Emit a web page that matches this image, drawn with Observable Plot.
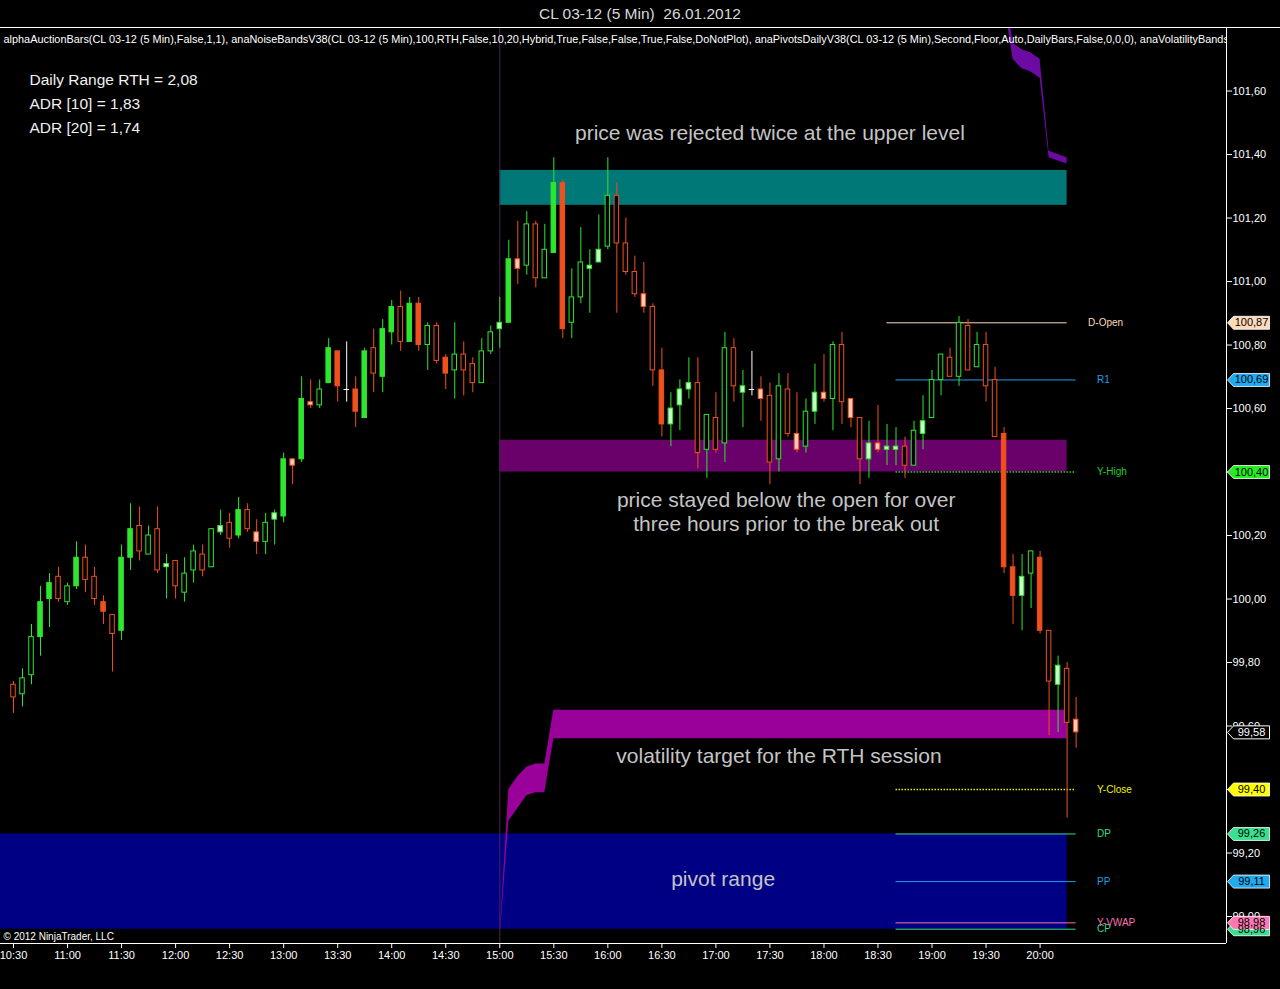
<!DOCTYPE html>
<html><head><meta charset="utf-8">
<script src="https://cdn.jsdelivr.net/npm/d3@7"></script>
<script src="https://cdn.jsdelivr.net/npm/@observablehq/plot@0.6"></script>
<style>
html,body{margin:0;padding:0;background:#000;overflow:hidden;}
#title{height:27px;border-bottom:1px solid #fff;color:#d8d8d8;font:15.5px "Liberation Sans",Arial,sans-serif;text-align:center;line-height:27px;white-space:pre;}
#chart svg{display:block}
</style></head><body>
<div id="title">CL 03-12 (5 Min)  26.01.2012</div>
<div id="chart"></div>
<script>
// ---------- DATA ----------
const barTimes = [
 "10:30","10:35","10:40","10:45","10:50","10:55",
 "11:00","11:05","11:10","11:15","11:20","11:25","11:30","11:35","11:40","11:45","11:50","11:55",
 "12:00","12:05","12:10","12:15","12:20","12:25","12:30","12:35","12:40","12:45","12:50","12:55",
 "13:00","13:05","13:10","13:15","13:20","13:25","13:30","13:35","13:40","13:45","13:50","13:55",
 "14:00","14:05","14:10","14:15","14:20","14:25","14:30","14:35","14:40","14:45","14:50","14:55",
 "15:00","15:05","15:10","15:15","15:20","15:25","15:30","15:35","15:40","15:45","15:50","15:55",
 "16:00","16:05","16:10","16:15","16:20","16:25","16:30","16:35","16:40","16:45","16:50","16:55",
 "17:00","17:05","17:10","17:15","17:20","17:25","17:30","17:35","17:40","17:45","17:50","17:55",
 "18:00","18:05","18:10","18:15","18:20","18:25","18:30","18:35","18:40","18:45","18:50","18:55",
 "19:00","19:05","19:10","19:15","19:20","19:25","19:30","19:35","19:40","19:45","19:50","19:55",
 "20:00","20:05","20:10","20:15","20:20"];
const opens = [
 99.73,99.70,99.76,99.88,100.00,100.07,99.99,100.04,100.13,100.07,
 99.99,99.95,99.90,100.13,100.23,100.14,100.22,100.10,100.12,100.02,
 100.09,100.14,100.10,100.21,100.24,100.20,100.28,100.21,100.18,100.25,
 100.26,100.44,100.44,100.62,100.61,100.68,100.78,100.66,100.66,100.57,
 100.79,100.70,100.84,100.92,100.81,100.93,100.80,100.86,100.76,100.72,
 100.77,100.74,100.68,100.78,100.85,100.87,101.07,101.05,101.18,101.01,
 101.09,101.31,100.87,100.95,101.04,101.06,101.11,101.27,101.12,101.03,
 100.96,100.92,100.72,100.55,100.61,100.66,100.68,100.47,100.57,100.49,
 100.79,100.65,100.66,100.66,100.64,100.44,100.66,100.52,100.48,100.59,
 100.65,100.63,100.80,100.63,100.57,100.44,100.49,100.47,100.47,100.48,
 100.42,100.52,100.57,100.69,100.76,100.70,100.86,100.73,100.80,100.69,
 100.52,100.10,100.01,100.08,100.13,99.90,99.73,99.78,99.62];
const highs = [
 99.74,99.78,99.92,100.04,100.08,100.10,100.05,100.18,100.17,100.10,
 100.01,99.95,100.17,100.30,100.29,100.23,100.29,100.14,100.12,100.13,
 100.17,100.17,100.22,100.28,100.27,100.32,100.30,100.25,100.27,100.28,
 100.46,100.44,100.70,100.69,100.69,100.82,100.78,100.81,100.70,100.79,
 100.85,100.88,100.94,100.97,100.95,100.95,100.87,100.87,100.77,100.87,
 100.81,100.76,100.82,100.86,100.95,101.13,101.19,101.22,101.19,101.18,
 101.39,101.32,101.04,101.17,101.10,101.21,101.39,101.31,101.20,101.08,
 101.06,100.93,100.79,100.65,100.69,100.76,100.76,100.58,100.65,100.84,
 100.82,100.72,100.78,100.70,100.68,100.71,100.71,100.65,100.63,100.74,
 100.77,100.81,100.84,100.63,100.57,100.56,100.61,100.55,100.54,100.51,
 100.56,100.64,100.72,100.77,100.79,100.89,100.88,100.84,100.84,100.73,
 100.54,100.14,100.14,100.15,100.15,99.90,99.82,99.80,99.69];
const lows = [
 99.64,99.66,99.73,99.82,99.91,99.99,99.98,100.03,100.02,99.98,
 99.92,99.77,99.87,100.09,100.12,100.14,100.08,100.00,100.00,99.99,
 100.05,100.07,100.10,100.20,100.16,100.19,100.21,100.14,100.14,100.17,
 100.24,100.36,100.43,100.60,100.60,100.68,100.62,100.62,100.54,100.57,
 100.65,100.65,100.80,100.78,100.81,100.78,100.72,100.74,100.66,100.63,
 100.64,100.65,100.68,100.77,100.79,100.87,100.99,101.02,100.98,101.01,
 101.09,100.82,100.82,100.93,100.90,101.06,101.10,100.90,101.02,100.95,
 100.90,100.67,100.51,100.48,100.53,100.63,100.41,100.38,100.46,100.43,
 100.62,100.54,100.64,100.56,100.36,100.40,100.51,100.46,100.46,100.55,
 100.62,100.53,100.55,100.54,100.36,100.38,100.46,100.42,100.42,100.38,
 100.42,100.47,100.57,100.64,100.70,100.67,100.72,100.73,100.62,100.51,
 100.08,99.92,99.90,99.97,99.89,99.57,99.58,99.31,99.53];
const closes = [
 99.69,99.75,99.88,99.99,100.05,100.00,100.04,100.13,100.06,100.00,
 99.96,99.89,100.13,100.22,100.15,100.20,100.09,100.11,100.04,100.08,
 100.15,100.09,100.22,100.23,100.19,100.28,100.22,100.18,100.24,100.27,
 100.44,100.42,100.63,100.61,100.66,100.79,100.67,100.66,100.59,100.78,
 100.71,100.85,100.92,100.81,100.93,100.80,100.86,100.75,100.71,100.77,
 100.72,100.68,100.78,100.84,100.87,101.07,101.04,101.18,101.01,101.10,
 101.31,100.85,100.95,101.06,101.05,101.10,101.27,101.12,101.03,100.96,
 100.92,100.72,100.55,100.60,100.66,100.68,100.46,100.58,100.47,100.79,
 100.67,100.67,100.66,100.63,100.43,100.67,100.52,100.47,100.59,100.65,
 100.63,100.80,100.62,100.57,100.44,100.49,100.47,100.48,100.48,100.42,
 100.53,100.56,100.69,100.77,100.70,100.87,100.72,100.80,100.67,100.51,
 100.10,100.01,100.07,100.15,99.90,99.74,99.79,99.61,99.58];
// bar body kind: S = solid, H = hollow, L = light (small body), D = doji
const barKinds = ("HHHSSHHSHH"+"SHSSHHHLHH"+"HHHLHSHL"+"HLSLSLHSSD"+"SSHSSHSSHH"+"SHHHHHL"+
  "SLHHHSSHHL"+"LHHHHLHSL"+"LLHHHHHLDL"+"HHHLHLLHHLHL"+"LLLHHLHHHH"+"HHHHSSLHSHLHL").split("");

// zones drawn on the chart
const zoneNames = ["upper level", "open zone"];
const zoneFrom  = ["15:00", "15:00"];
const zoneTo    = ["20:15", "20:15"];
const zoneLow   = [101.24, 100.40];
const zoneHigh  = [101.35, 100.50];

// pivot range
const pivotRangeLow = 98.96, pivotRangeHigh = 99.26, pivotRangeEnd = "20:15";

// volatility bands (vertices)
const volLowTimes  = ["15:00","15:05","15:10","15:15","15:20","15:25","15:30","20:15"];
const volLowUpper  = [98.93, 99.40, 99.44, 99.47, 99.48, 99.48, 99.65, 99.65];
const volLowLower  = [98.92, 99.30, 99.34, 99.38, 99.39, 99.39, 99.56, 99.56];
const volHighTimes = ["19:40","19:45","19:50","19:55","20:00","20:05","20:10","20:15"];
const volHighUpper = [101.95, 101.75, 101.73, 101.72, 101.70, 101.41, 101.40, 101.39];
const volHighLower = [101.88, 101.70, 101.67, 101.66, 101.64, 101.39, 101.38, 101.37];

// daily pivots
const pivotNames  = ["D-Open","R1","Y-High","Y-Close","DP","PP","CP","Y-VWAP"];
const pivotValues = [100.87, 100.69, 100.40, 99.40, 99.26, 99.11, 98.96, 98.98];
const pivotStart  = ["18:35","18:40","18:40","18:40","18:40","18:40","18:40","18:40"];
const pivotEnd    = ["20:15","20:20","20:20","20:20","20:20","20:20","20:20","20:20"];
const lastPrice = 99.58;

const timeTicks  = ["10:30","11:00","11:30","12:00","12:30","13:00","13:30","14:00","14:30","15:00","15:30","16:00","16:30","17:00","17:30","18:00","18:30","19:00","19:30","20:00"];
const priceTicks = [99.00, 99.20, 99.40, 99.60, 99.80, 100.00, 100.20, 100.40, 100.60, 100.80, 101.00, 101.20, 101.40, 101.60];

const headerText = "alphaAuctionBars(CL 03-12 (5 Min),False,1,1), anaNoiseBandsV38(CL 03-12 (5 Min),100,RTH,False,10,20,Hybrid,True,False,False,True,False,DoNotPlot), anaPivotsDailyV38(CL 03-12 (5 Min),Second,Floor,Auto,DailyBars,False,0,0,0), anaVolatilityBands";
const statsLines = ["Daily Range RTH = 2,08", "ADR [10] = 1,83", "ADR [20] = 1,74"];

// ---------- BUILD ----------
const toMin = t => { const [h, mm] = t.split(":").map(Number); return h * 60 + mm; };
const fmtTime = v => String(Math.floor(v / 60)).padStart(2, "0") + ":" + String(v % 60).padStart(2, "0");
const fmtPrice = v => v.toFixed(2).replace(".", ",");

const bars = barTimes.map((t, i) => ({m: toMin(t), open: opens[i], high: highs[i], low: lows[i], close: closes[i], kind: barKinds[i]}));
const zones = zoneNames.map((n, i) => ({name: n, x1: toMin(zoneFrom[i]), x2: toMin(zoneTo[i]), lo: zoneLow[i], hi: zoneHigh[i]}));
const volLow = volLowTimes.map((t, i) => ({m: toMin(t), hi: volLowUpper[i], lo: volLowLower[i]}));
const volHigh = volHighTimes.map((t, i) => ({m: toMin(t), hi: volHighUpper[i], lo: volHighLower[i]}));
const pivots = pivotNames.map((n, i) => ({name: n, value: pivotValues[i], x1: toMin(pivotStart[i]), x2: toMin(pivotEnd[i])}));

const GREEN = "#2ee62e", RED = "#f0501e";
const candleColor = d => d.kind === "D" ? "#ffffff" : (d.close >= d.open ? GREEN : RED);
const bodyFill = d => d.kind === "S" ? candleColor(d) : d.kind === "L" ? (d.close >= d.open ? "#c8ffc8" : "#ffcbb8") : "#000000";

const pivotColor = {"D-Open":"#ffdab9","R1":"#1e9ee6","Y-High":"#22cc22","Y-Close":"#f0f000","DP":"#30dd88","PP":"#1e9ee6","CP":"#30dd88","Y-VWAP":"#ff6eb0"};
const tagFill = {"D-Open":"#ffdab9","R1":"#20aaf0","Y-High":"#22ee22","Y-Close":"#ffff00","DP":"#38e090","PP":"#20aaf0","CP":"#38e090","Y-VWAP":"#ff78b4"};
const dotted = new Set(["Y-High","Y-Close"]);

const tag = {draw(ctx) { ctx.moveTo(-17, 0); ctx.lineTo(-11, -6.5); ctx.lineTo(25, -6.5); ctx.lineTo(25, 6.5); ctx.lineTo(-11, 6.5); ctx.closePath(); }};

const xDomain = [622.78, 1303.5];
const yDomain = [98.915, 101.797];
const FONT = "'Liberation Sans', Arial, sans-serif";
const NOTE = "#c4c4c4";

const tagOrder = [...pivots.filter(p => p.name !== "Y-VWAP"), ...pivots.filter(p => p.name === "Y-VWAP")];

const chart = Plot.plot({
  width: 1280, height: 961,
  marginTop: 0, marginBottom: 46, marginLeft: 0, marginRight: 54,
  style: {background: "#000", color: "#fff", fontFamily: FONT, fontSize: "11px"},
  color: {type: "identity"},
  x: {type: "linear", domain: xDomain, ticks: timeTicks.map(toMin), tickFormat: fmtTime, tickSize: 5, tickPadding: 3, label: null},
  y: {domain: yDomain, axis: "right", ticks: priceTicks, tickFormat: fmtPrice, tickSize: 5, tickPadding: 1, label: null},
  marks: [
    Plot.rect([0], {x1: xDomain[0], x2: toMin(pivotRangeEnd), y1: pivotRangeLow, y2: pivotRangeHigh, fill: "#000085"}),
    Plot.rect(zones, {x1: "x1", x2: "x2", y1: "lo", y2: "hi", fill: d => d.name === "upper level" ? "#007878" : "#6a006a"}),
    Plot.areaY(volLow, {x: "m", y1: "lo", y2: "hi", fill: "#9a009a", clip: true}),
    Plot.areaY(volHigh, {x: "m", y1: "lo", y2: "hi", fill: "#6c0aa4", clip: true}),
    Plot.ruleX([toMin("15:00")], {stroke: "#4a2050"}),
    Plot.ruleY(pivots.filter(p => !dotted.has(p.name)), {y: "value", x1: "x1", x2: "x2", stroke: d => pivotColor[d.name]}),
    Plot.ruleY(pivots.filter(p => dotted.has(p.name)), {y: "value", x1: "x1", x2: "x2", stroke: d => pivotColor[d.name], strokeWidth: 1.6, strokeDasharray: "1.5,1.5"}),
    Plot.text(pivots, {y: "value", x: "x2", dx: 21, text: "name", textAnchor: "start", fill: d => pivotColor[d.name], fontSize: 10}),
    // candles
    Plot.ruleX(bars, {x: "m", y1: "low", y2: "high", stroke: candleColor}),
    Plot.rect(bars.filter(d => d.kind !== "D"), {x1: d => d.m - 1.25, x2: d => d.m + 1.25, y1: "open", y2: "close", fill: bodyFill, stroke: candleColor}),
    Plot.ruleY(bars.filter(d => d.kind === "D"), {y: "open", x1: d => d.m - 1.5, x2: d => d.m + 1.5, stroke: "#ffffff"}),
    // annotations
    Plot.text(["price was rejected twice at the upper level"], {x: 1050, y: 101.466, fill: NOTE, fontSize: 21}),
    Plot.text(["price stayed below the open for over"], {x: 1059, y: 100.31, fill: NOTE, fontSize: 21}),
    Plot.text(["three hours prior to the break out"], {x: 1059, y: 100.235, fill: NOTE, fontSize: 21}),
    Plot.text(["volatility target for the RTH session"], {x: 1055, y: 99.504, fill: NOTE, fontSize: 21}),
    Plot.text(["pivot range"], {x: 1024, y: 99.117, fill: NOTE, fontSize: 21}),
    ...statsLines.map((s, i) => Plot.text([s], {frameAnchor: "top-left", dx: 29, dy: 52 + 24 * i, lineAnchor: "middle", fill: "#f0f0f0", fontSize: 15.5, textAnchor: "start"})),
    Plot.text([headerText], {frameAnchor: "top-left", dx: 3, dy: 11, lineAnchor: "middle", fill: "#ffffff", fontSize: 10.9, textAnchor: "start", clip: true}),
    Plot.text(["© 2012 NinjaTrader, LLC"], {frameAnchor: "bottom-left", dx: 3, dy: -7, lineAnchor: "middle", fill: "#ffffff", fontSize: 10, textAnchor: "start"}),
    Plot.ruleY([yDomain[0]], {stroke: "#ffffff"}),
    Plot.ruleX([xDomain[1]], {stroke: "#ffffff"}),
    // price tags
    Plot.dot(tagOrder, {y: "value", frameAnchor: "right", dx: 18, symbol: tag, r: 5, fill: d => tagFill[d.name], stroke: "#ffffff", strokeWidth: 0.8}),
    Plot.text(tagOrder, {y: "value", frameAnchor: "right", dx: 25, text: d => fmtPrice(d.value), fill: "#000000", fontSize: 11, textAnchor: "middle"}),
    Plot.dot([lastPrice], {y: d => d, frameAnchor: "right", dx: 18, symbol: tag, r: 5, fill: "#000000", stroke: "#ffffff", strokeWidth: 1}),
    Plot.text([lastPrice], {y: d => d, frameAnchor: "right", dx: 25, text: d => fmtPrice(d), fill: "#ffffff", fontSize: 11, textAnchor: "middle"})
  ]
});
document.getElementById("chart").appendChild(chart);
</script>
</body></html>
